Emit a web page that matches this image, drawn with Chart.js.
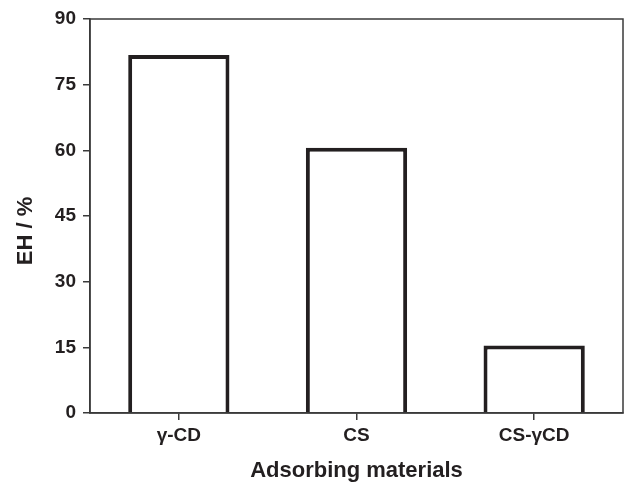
<!DOCTYPE html>
<html>
<head>
<meta charset="utf-8">
<script src="https://cdn.jsdelivr.net/npm/chart.js@4"></script>
<style>
  body { margin: 0; background: #fff; }
  canvas { display: block; }
</style>
</head>
<body>
<canvas id="myChart" width="624" height="484"></canvas>
<script>
var categories = ["γ-CD", "CS", "CS-γCD"];
var ehValues = [81.8, 60.6, 15.4];
var yTicks = [0, 15, 30, 45, 60, 75, 90];
var yTitle = "EH / %";

var ink = "#231f20";

// outer frame + y title (title sits a bit below the plot centre in the original)
var framePlugin = {
  id: "frame",
  afterDatasetsDraw: function (chart) {
    var a = chart.chartArea;
    var c = chart.ctx;
    c.save();
    c.strokeStyle = "#3a3a3a";
    c.lineWidth = 1.5;
    c.strokeRect(a.left, a.top, a.right - a.left, a.bottom - a.top);
    c.restore();
  },
  afterDraw: function (chart) {
    var c = chart.ctx;
    var a = chart.chartArea;
    c.save();
    c.translate(25.5, (a.top + a.bottom) / 2 + 15);
    c.rotate(-Math.PI / 2);
    c.fillStyle = ink;
    c.font = "bold 22px 'Liberation Sans'";
    c.textAlign = "center";
    c.textBaseline = "middle";
    c.fillText(yTitle, 0, 0);
    c.restore();
  }
};

var ctx = document.getElementById("myChart").getContext("2d");
var myChart = new Chart(ctx, {
  type: "bar",
  data: {
    labels: categories,
    datasets: [
      {
        label: "EH",
        data: ehValues,
        backgroundColor: "#ffffff",
        borderColor: ink,
        borderWidth: 4,
        barPercentage: 0.57,
        categoryPercentage: 1,
      },
    ],
  },
  options: {
    responsive: false,
    devicePixelRatio: 1,
    animation: false,
    layout: { padding: { top: 19, right: 1, left: 0, bottom: 0 } },
    plugins: {
      legend: { display: false },
      tooltip: { enabled: false },
    },
    scales: {
      x: {
        offset: true,
        grid: {
          offset: false,
          drawOnChartArea: false,
          tickLength: 7,
          tickColor: "#3a3a3a",
          lineWidth: 1.5,
        },
        border: { display: true, color: "#3a3a3a", width: 1.5 },
        ticks: {
          color: ink,
          padding: 4,
          font: { family: "Liberation Sans", size: 19, weight: "bold" },
        },
        title: {
          display: true,
          text: "Adsorbing materials",
          color: ink,
          padding: { top: 0, bottom: 0 },
          font: { family: "Liberation Sans", size: 22, weight: "bold" },
        },
        afterFit: function (s) { s.height = 71; },
      },
      y: {
        min: 0,
        max: 90,
        afterBuildTicks: function (s) {
          s.ticks = yTicks.map(function (v) { return { value: v }; });
        },
        grid: {
          drawOnChartArea: false,
          tickLength: 7,
          tickColor: "#3a3a3a",
          lineWidth: 1.5,
        },
        border: { display: true, color: "#3a3a3a", width: 1.5 },
        ticks: {
          color: ink,
          padding: 7,
          font: { family: "Liberation Sans", size: 19, weight: "bold" },
        },
        title: { display: false },
        afterFit: function (s) { s.width = 90; },
      },
    },
  },
  plugins: [framePlugin],
});
</script>
</body>
</html>
